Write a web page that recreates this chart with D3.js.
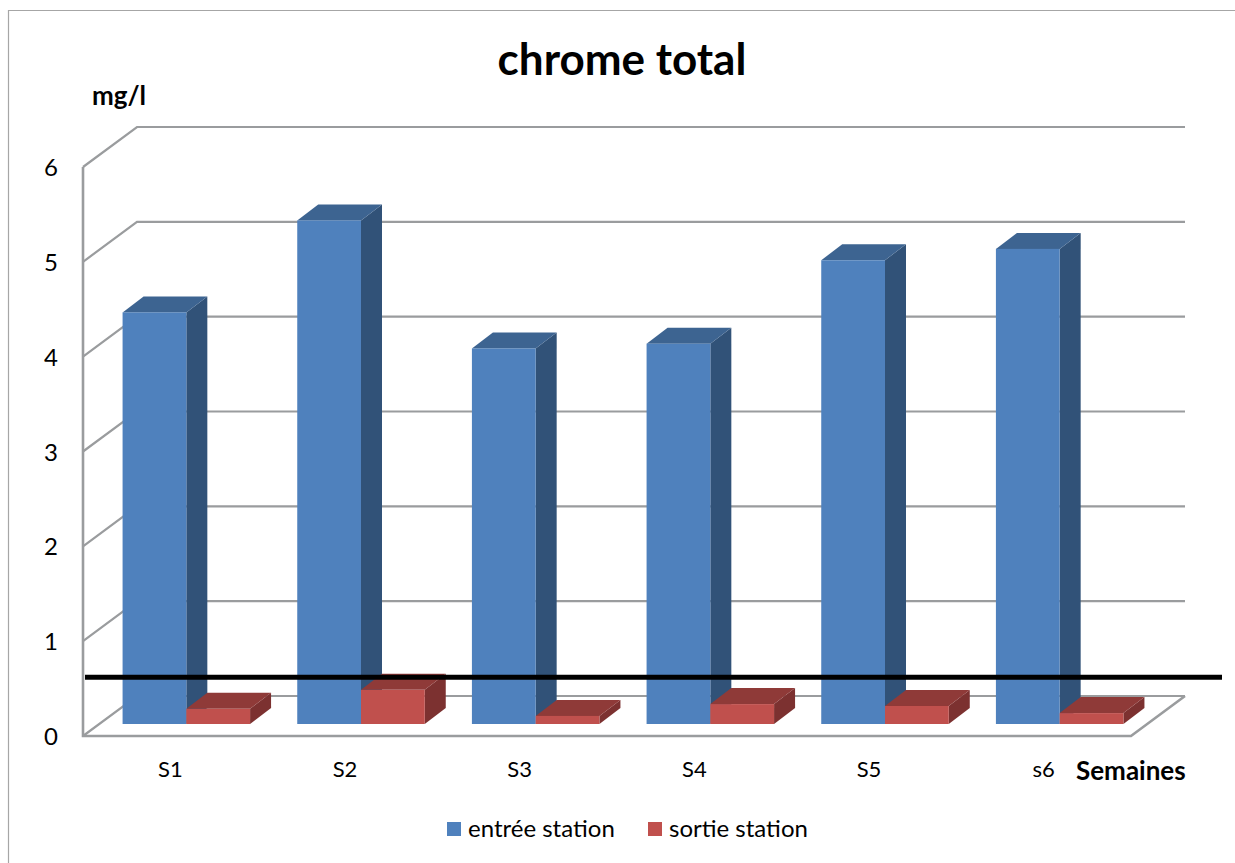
<!DOCTYPE html>
<html>
<head>
<meta charset="utf-8">
<script src="https://cdnjs.cloudflare.com/ajax/libs/d3/7.8.5/d3.min.js"></script>
<style>
html,body{margin:0;padding:0;background:#fff;overflow:hidden}
svg{display:block}
text{font-family:Lato,"Open Sans",sans-serif;fill:#000}
</style>
</head>
<body>
<svg id="chart" width="1235" height="863"></svg>
<script>
// Chrome concentration, inlet and outlet of the plant, by week (mg/l)
const weeks = ["S1", "S2", "S3", "S4", "S5", "s6"];
const seriesNames = ["entrée station", "sortie station"];
const inletValues = [4.34, 5.31, 3.96, 4.01, 4.89, 5.01];
const outletValues = [0.16, 0.36, 0.085, 0.21, 0.19, 0.115];
const yTicks = [0, 1, 2, 3, 4, 5, 6];
const limitValue = 0.62;

const faces = [
  {front: "#4f81bd", top: "#3d6491", side: "#315278"},
  {front: "#c0504d", top: "#8f3a38", side: "#7c3130"}
];
const gridColor = "#9a9c9e";

const svg = d3.select("#chart");

// Front plane of the box, then the receding offsets of wall and columns
const front = {left: 83, right: 1131, top: 167, bottom: 736};
const wall = {dx: 54, dy: -40};
const rowInset = {dx: 16, dy: -12};
const barDepth = {dx: 21, dy: -16};

const y = d3.scaleLinear().domain([0, 6]).range([front.bottom, front.top]);
const xLabels = d3.scaleBand().domain(weeks).range([front.left, front.right]);
const x = d3.scaleBand().domain(weeks)
  .range([front.left + rowInset.dx, front.right + rowInset.dx])
  .paddingInner(0.27).paddingOuter(0.135);
const xSeries = d3.scaleBand().domain(seriesNames).range([0, x.bandwidth()]);

// Outer frame: only top and left edges fall inside the page
svg.append("path")
  .attr("d", "M8.5,863V10.5H1235")
  .attr("fill", "none").attr("stroke", "#a6a6a6").attr("stroke-width", 1.2);

// Back wall and left wall gridlines
const grid = svg.append("g").attr("fill", "none").attr("stroke", gridColor).attr("stroke-width", 2.2);
grid.selectAll("path.level").data(yTicks).join("path")
  .attr("class", "level")
  .attr("d", d => {
    const yf = y(d), xb = front.left + wall.dx, yb = yf + wall.dy;
    return `M${front.left},${yf}L${xb},${yb}L${front.right + wall.dx},${yb}`;
  });

// Floor outline and the vertical axis edge
grid.append("path")
  .attr("d", `M${front.left},${front.top}V${front.bottom}H${front.right}L${front.right + wall.dx},${front.bottom + wall.dy}`)
  .attr("stroke-width", 2.6);

// Columns, drawn series by series inside each week
function drawColumn(g, px, py, w, base, c) {
  const d = barDepth;
  g.append("path").attr("fill", c.side)
    .attr("d", `M${px + w},${py}l${d.dx},${d.dy}V${base + d.dy}l${-d.dx},${-d.dy}Z`);
  g.append("path").attr("fill", c.top)
    .attr("d", `M${px},${py}l${d.dx},${d.dy}h${w}l${-d.dx},${-d.dy}Z`);
  g.append("rect").attr("x", px).attr("y", py).attr("width", w).attr("height", base - py).attr("fill", c.front);
}

const columns = svg.append("g");
weeks.forEach((week, i) => {
  [inletValues[i], outletValues[i]].forEach((v, s) => {
    const px = x(week) + xSeries(seriesNames[s]);
    drawColumn(columns, px, y(v) + rowInset.dy, xSeries.bandwidth(), y(0) + rowInset.dy, faces[s]);
  });
});

// Regulatory limit line across the plot
svg.append("line")
  .attr("x1", 85).attr("x2", 1222)
  .attr("y1", y(limitValue)).attr("y2", y(limitValue))
  .attr("stroke", "#000").attr("stroke-width", 5);

// Axis labels
const yAxis = svg.append("g")
  .attr("transform", `translate(${front.left},0)`)
  .call(d3.axisLeft(y).tickValues(yTicks).tickFormat(d3.format("d")).tickSize(0).tickPadding(25));
yAxis.select(".domain").remove();
yAxis.selectAll("text").attr("font-size", 24).attr("dy", "0.36em").style("font-family", "Lato,sans-serif");

const xAxis = svg.append("g")
  .attr("transform", `translate(0,${front.bottom})`)
  .call(d3.axisBottom(xLabels).tickSize(0).tickPadding(25));
xAxis.select(".domain").remove();
xAxis.selectAll("text").attr("font-size", 22).style("font-family", "Lato,sans-serif");

// Title and axis names
svg.append("text").attr("x", 622).attr("y", 75).attr("text-anchor", "middle")
  .attr("font-size", 44).attr("font-weight", 700).text("chrome total");
svg.append("text").attr("x", 92).attr("y", 105)
  .attr("font-size", 26).attr("font-weight", 700).text("mg/l");
svg.append("text").attr("x", 1076).attr("y", 780)
  .attr("font-size", 26).attr("font-weight", 700).text("Semaines");

// Legend
const legendX = [447, 648];
const legend = svg.append("g").selectAll("g").data(seriesNames).join("g")
  .attr("transform", (d, i) => `translate(${legendX[i]},822)`);
legend.append("rect").attr("width", 14).attr("height", 14).attr("fill", (d, i) => faces[i].front);
legend.append("text").attr("x", 21).attr("y", 15).attr("font-size", 24).text(d => d);
</script>
</body>
</html>
